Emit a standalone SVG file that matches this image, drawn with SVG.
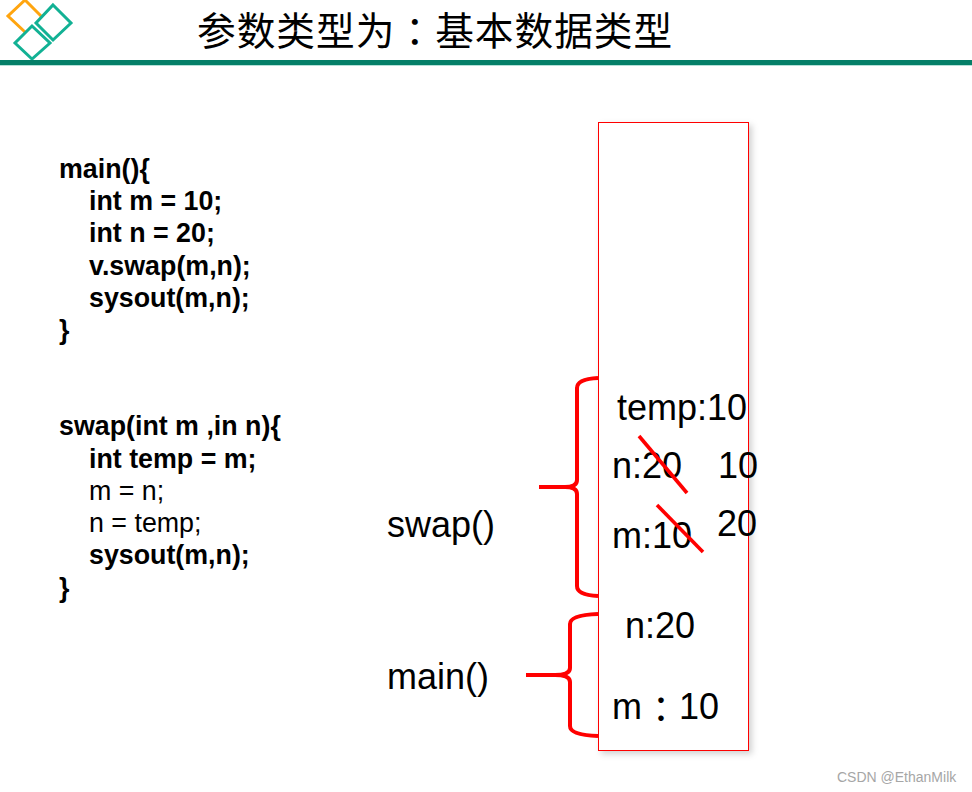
<svg xmlns="http://www.w3.org/2000/svg" width="972" height="792" viewBox="0 0 972 792">
<style>
.c{font:bold 26.8px "Liberation Sans",sans-serif;fill:#000}
.r{font-weight:normal}
.t{font:36px "Liberation Sans",sans-serif;fill:#000}
.b{fill:none;stroke:#f00;stroke-width:4}
.x{stroke:#f00;stroke-width:3.6;fill:none}
.d{fill:none;stroke-width:3}
.tc{font-family:"Noto Sans CJK TC",sans-serif}
</style>
<defs><filter id="s" x="-10%" y="-5%" width="125%" height="110%"><feDropShadow dx="3" dy="3" stdDeviation="3" flood-color="#000" flood-opacity="0.18"/></filter></defs>
<rect width="972" height="792" fill="#fff"/>
<g id="logo">
<path class="d" stroke="#ffa50f" d="M41 16 L25 0 L8 16 L25 32"/>
<path class="d" stroke="#12b194" d="M53 5 L71 23 L53 40 L36 23Z"/>
<path class="d" stroke="#12b194" d="M32 26 L50 43 L32 59 L15 43Z"/>
</g>
<g id="title"><text x="197" y="45" font-family="'Noto Sans CJK SC',sans-serif" font-size="38.7" letter-spacing="1" fill="#000">参数类型为<tspan class="tc" dy="1">：</tspan><tspan dy="-1">基本数据类型</tspan></text>
<rect x="0" y="60" width="972" height="5" fill="#057f68"/><rect x="0" y="65" width="972" height="1" fill="#b5e0d8"/></g>
<g id="stack"><rect x="598.500" y="122.500" width="150" height="628" fill="#fff" stroke="#f00" stroke-width="1" filter="url(#s)"/></g>
<g id="code-main">
<text class="c" x="59" y="178">main(){</text>
<text class="c" x="89" y="210">int m = 10;</text>
<text class="c" x="89" y="242">int n = 20;</text>
<text class="c" x="89" y="275">v.swap(m,n);</text>
<text class="c" x="89" y="307">sysout(m,n);</text>
<text class="c" x="59" y="339">}</text>
</g>
<g id="code-swap">
<text class="c" x="59" y="435">swap(int m ,in n){</text>
<text class="c" x="89" y="468">int temp = m;</text>
<text class="c r" x="89" y="500">m = n;</text>
<text class="c r" x="89" y="532">n = temp;</text>
<text class="c" x="89" y="564">sysout(m,n);</text>
<text class="c" x="59" y="597">}</text>
</g>
<g id="labels">
<text class="t" x="387" y="537">swap()</text>
<text class="t" x="387" y="689">main()</text>
<text class="t" x="617" y="420">temp:10</text>
<text class="t" x="612" y="478">n:20</text>
<text class="t" x="718" y="478">10</text>
<text class="t" x="717" y="536">20</text>
<text class="t" x="612" y="548">m:10</text>
<text class="t" x="625" y="638">n:20</text>
<text class="t" x="612" y="719">m<tspan class="tc" dx="1" dy="4">：</tspan><tspan dy="-4">10</tspan></text>
</g>
<g id="connectors">
<path class="b" d="M539 487 H565 Q577 487 577 480 V388 Q577 379 598 378"/>
<path class="b" d="M565 487 Q577 487 577 494 V586 Q577 595 598 596"/>
<path class="b" d="M526 675 H555 Q570 675 570 668 V624 Q570 615 598 614"/>
<path class="b" d="M555 675 Q570 675 570 682 V726 Q570 735 598 736"/>
<path class="x" d="M639 436 L687 493"/>
<path class="x" d="M657 505 L703 552"/>
</g>
<text id="watermark" x="837" y="782" font-family="'Liberation Sans',sans-serif" font-size="14" fill="#a6a6a6">CSDN @EthanMilk</text>
</svg>
